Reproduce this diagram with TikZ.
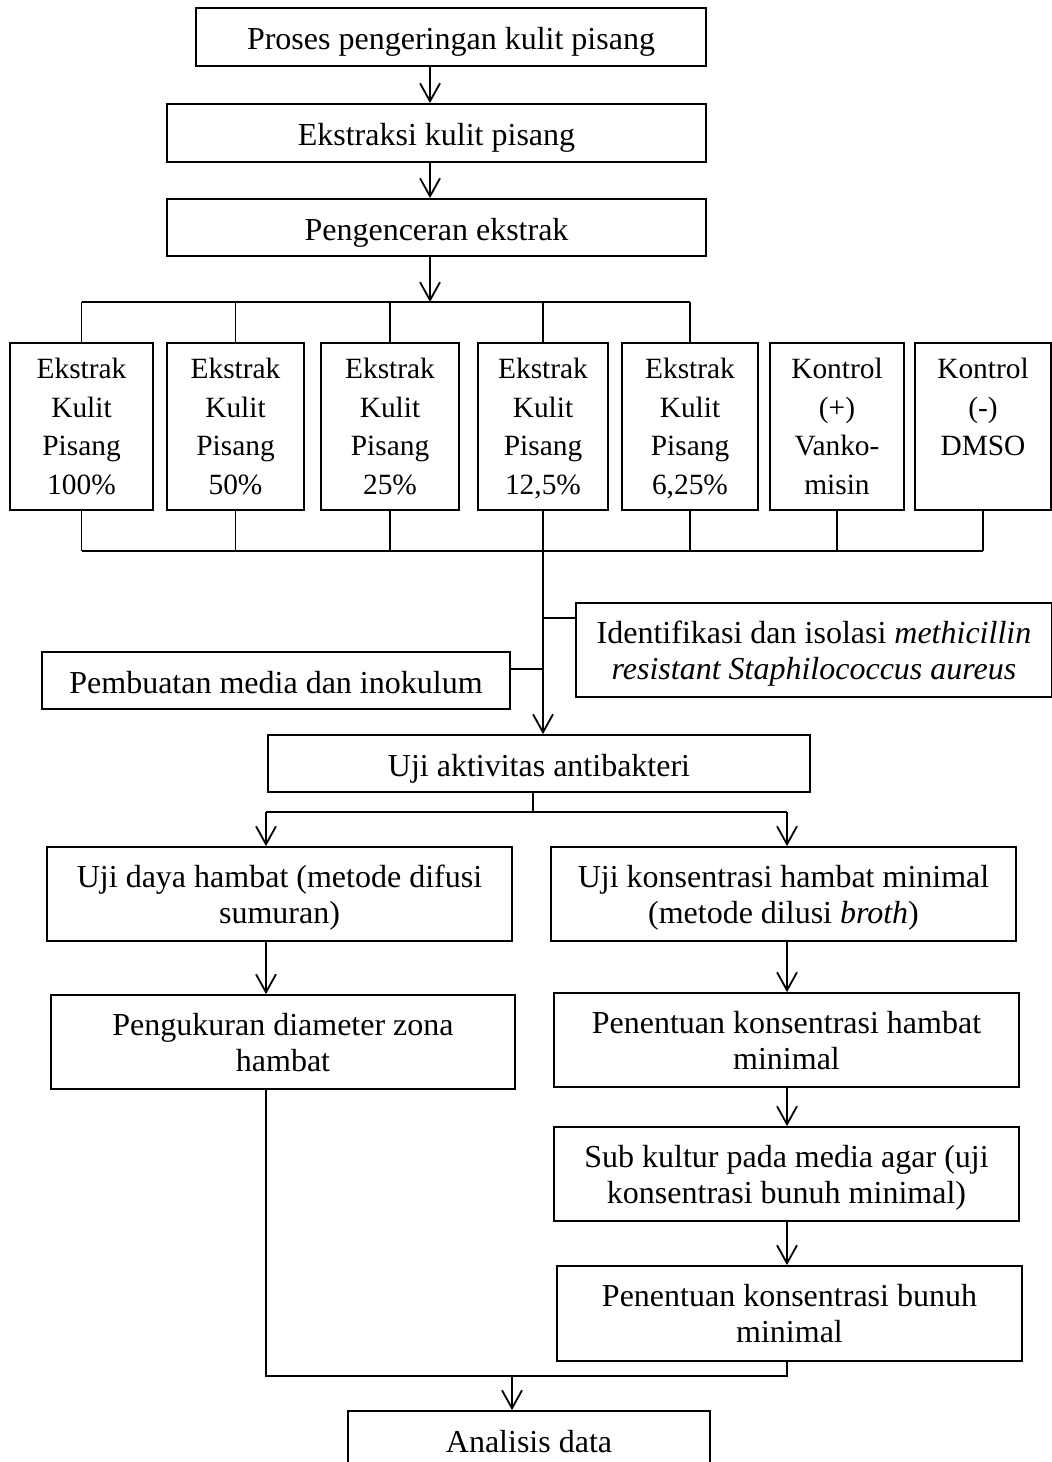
\documentclass[tikz,border=0pt]{standalone}
\usepackage{fontspec}
\setmainfont{Liberation Serif}
\usetikzlibrary{arrows.meta}

\tikzset{
kotak/.style={draw, line width=0.9pt, align=center, inner sep=0pt, font=\fontsize{16}{18}\selectfont,
  execute at begin node=\strut, text depth=0pt},
kecil/.style={kotak, minimum height=83.5pt, font=\fontsize{14.7}{19.25}\selectfont},
panah/.style={line width=0.9pt, -{Straight Barb[length=9pt,width=10pt,line width=0.9pt]}},
garis/.style={line width=0.9pt}
}

\begin{document}
\begin{tikzpicture}[x=0.5pt,y=-0.5pt]
\useasboundingbox (0,0) rectangle (1052,1462);
\clip (0,0) rectangle (1052,1462);
% tahap awal
\node[kotak, minimum width=255pt, minimum height=29pt] (proses) at (451,37) {Proses pengeringan kulit pisang};
\node[kotak, minimum width=269.5pt, minimum height=29pt] (ekstraksi) at (436.5,133) {Ekstraksi kulit pisang};
\node[kotak, minimum width=269.5pt, minimum height=28.5pt] (encer) at (436.5,227.5) {Pengenceran ekstrak};
% perlakuan
\node[kecil, minimum width=71.5pt] (e100) at (81.5,426.5) {Ekstrak\\Kulit\\Pisang\\100\%};
\node[kecil, minimum width=68.5pt] (e50) at (235.5,426.5) {Ekstrak\\Kulit\\Pisang\\50\%};
\node[kecil, minimum width=69pt] (e25) at (390,426.5) {Ekstrak\\Kulit\\Pisang\\25\%};
\node[kecil, minimum width=65pt] (e125) at (543,426.5) {Ekstrak\\Kulit\\Pisang\\12,5\%};
\node[kecil, minimum width=68pt] (e625) at (690,426.5) {Ekstrak\\Kulit\\Pisang\\6,25\%};
\node[kecil, minimum width=67pt] (kpos) at (837,426.5) {Kontrol\\(+)\\Vanko-\\misin};
\node[kecil, minimum width=68pt] (kneg) at (983,426.5) {Kontrol\\(-)\\DMSO\\\mbox{}};
% bakteri dan media
\node[kotak, minimum width=238pt, minimum height=47pt] (identifikasi) at (814,650) {Identifikasi dan isolasi \textit{methicillin}\\\textit{resistant Staphilococcus aureus}};
\node[kotak, minimum width=234pt, minimum height=28.5pt] (pembuatan) at (276,680.5) {Pembuatan media dan inokulum};
\node[kotak, minimum width=271pt, minimum height=28.5pt] (uji) at (539,763.5) {Uji aktivitas antibakteri};
% dua cabang uji
\node[kotak, minimum width=232.5pt, minimum height=47pt] (difusi) at (279.5,894) {Uji daya hambat (metode difusi\\sumuran)};
\node[kotak, minimum width=232.5pt, minimum height=47pt] (khm) at (783.5,894) {Uji konsentrasi hambat minimal\\(metode dilusi \textit{broth})};
\node[kotak, minimum width=232pt, minimum height=47pt] (ukur) at (283,1042) {Pengukuran diameter zona\\hambat};
\node[kotak, minimum width=232.5pt, minimum height=47pt] (tentukhm) at (786.5,1040) {Penentuan konsentrasi hambat\\minimal};
\node[kotak, minimum width=232.5pt, minimum height=47pt] (subkultur) at (786.5,1174) {Sub kultur pada media agar (uji\\konsentrasi bunuh minimal)};
\node[kotak, minimum width=232.5pt, minimum height=47.5pt] (tentukbm) at (789.5,1313.5) {Penentuan konsentrasi bunuh\\minimal};
\node[kotak, minimum width=181pt, minimum height=29pt] (analisis) at (529,1440) {Analisis data};

% titik bantu
\coordinate (sumbu) at (430,0);
\coordinate (cabang) at (430,302);
\coordinate (gabung) at (543,551);
\coordinate (bagi) at (533,812);
\coordinate (kiri) at (266,812);
\coordinate (kanan) at (787,812);
\coordinate (akhir) at (512,1376);
\coordinate (masukA) at ([yshift=16pt]identifikasi.west);
\coordinate (masukB) at ([yshift=5.75pt]pembuatan.east);

\draw[panah] (proses.south -| sumbu) -- (ekstraksi.north -| sumbu);
\draw[panah] (ekstraksi.south -| sumbu) -- (encer.north -| sumbu);
\draw[panah] (encer.south -| sumbu) -- (cabang);
\draw[garis] (e100.north |- cabang) -- (e625.north |- cabang);
\foreach \n in {e100,e50,e25,e125,e625}
  \draw[garis] (\n.north |- cabang) -- (\n.north);
\foreach \n in {e100,e50,e25,e125,e625,kpos,kneg}
  \draw[garis] (\n.south) -- (\n.south |- gabung);
\draw[garis] (e100.south |- gabung) -- (kneg.south |- gabung);
\draw[panah] (gabung) -- (uji.north -| gabung);
\draw[garis] (masukA) -- (masukA -| gabung);
\draw[garis] (masukB) -- (masukB -| gabung);
\draw[garis] (uji.south -| bagi) -- (bagi);
\draw[garis] (kiri) -- (kanan);
\draw[panah] (kiri) -- (difusi.north -| kiri);
\draw[panah] (kanan) -- (khm.north -| kanan);
\draw[panah] (difusi.south -| kiri) -- (ukur.north -| kiri);
\draw[panah] (khm.south -| kanan) -- (tentukhm.north -| kanan);
\draw[panah] (tentukhm.south -| kanan) -- (subkultur.north -| kanan);
\draw[panah] (subkultur.south -| kanan) -- (tentukbm.north -| kanan);
\draw[garis] (ukur.south -| kiri) |- (akhir) -| (tentukbm.south -| kanan);
\draw[panah] (akhir) -- (analisis.north -| akhir);
\end{tikzpicture}
\end{document}
